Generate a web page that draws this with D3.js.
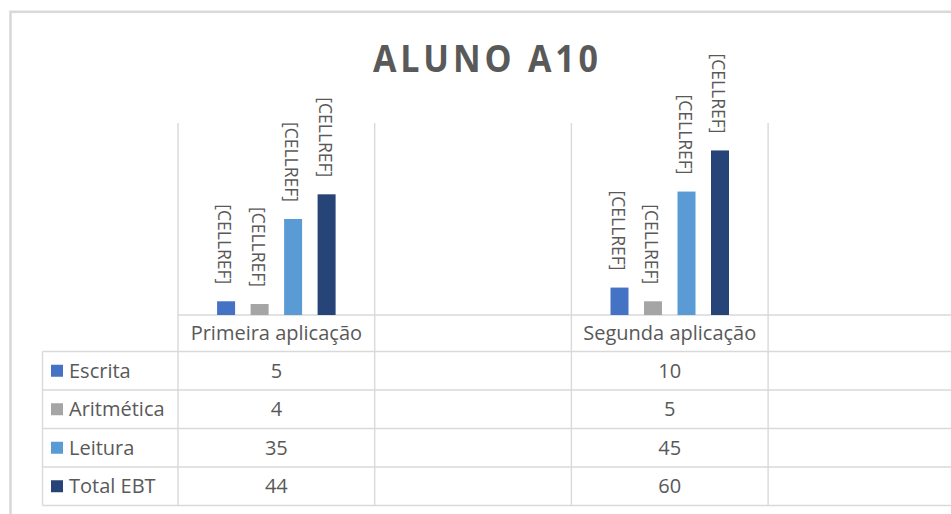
<!DOCTYPE html>
<html>
<head>
<meta charset="utf-8">
<script src="https://cdn.jsdelivr.net/npm/d3@7"></script>
<style>
  html, body { margin: 0; padding: 0; background: #ffffff; }
  svg { display: block; }
  text { font-family: "Open Sans", "Noto Sans", sans-serif; }
</style>
</head>
<body>
<svg id="chart" width="951" height="514"></svg>
<script>
// Chart data
const title = "ALUNO A10";
const categories = ["Primeira aplicação", "", "Segunda aplicação", ""];
const seriesNames = ["Escrita", "Aritmética", "Leitura", "Total EBT"];
const escrita = [5, null, 10, null];
const aritmetica = [4, null, 5, null];
const leitura = [35, null, 45, null];
const totalEBT = [44, null, 60, null];
const seriesColors = ["#4472C4", "#A5A5A5", "#5B9BD5", "#264478"];
const dataLabel = "[CELLREF]";
const yTicks = [0, 70];

const series = [escrita, aritmetica, leitura, totalEBT];

const svg = d3.select("#chart");
const textColor = "#595959";
const gridColor = "#d9d9d9";

// Layout
const plotLeft = 178, bandW = 196.7;
const plotTop = 123, plotBottom = 315;
const tableLeft = 42.5;
const rowH = 38.5;
const tableTop = 351.5;

// Chart frame (the outer border of the chart area)
svg.append("rect")
  .attr("x", 10.5).attr("y", 11.8)
  .attr("width", 1000).attr("height", 600)
  .attr("fill", "none")
  .attr("stroke", "#d9d9d9")
  .attr("stroke-width", 2.6);

// Title, slightly condensed horizontally
const titleScale = 0.92;
svg.append("text")
  .attr("transform", `translate(485.5,72) scale(${titleScale},1)`)
  .attr("text-anchor", "middle")
  .attr("font-size", 37)
  .attr("font-weight", 700)
  .attr("fill", textColor)
  .attr("textLength", 225 / titleScale)
  .attr("lengthAdjust", "spacing")
  .text(title);

// Scales
const x = d3.scaleBand()
  .domain(d3.range(categories.length))
  .range([plotLeft, plotLeft + bandW * categories.length])
  .paddingInner(0).paddingOuter(0);

const y = d3.scaleLinear()
  .domain(d3.extent(yTicks))
  .range([plotBottom, plotTop]);

// Bars within each category band: 18px wide, 33.5px apart
const barW = 18, barStep = 33.5;
const groupW = barStep * (series.length - 1) + barW;
const xs = d3.scaleBand()
  .domain(d3.range(series.length))
  .range([0, groupW])
  .paddingInner((barStep - barW) / barStep)
  .paddingOuter(0);

// Grid: vertical category lines from plot top down through the table
const grid = svg.append("g").attr("stroke", gridColor).attr("stroke-width", 1.4);
const bounds = d3.range(categories.length + 1).map(i => plotLeft + i * bandW);
grid.selectAll("line.v").data(bounds).join("line")
  .attr("x1", d => d).attr("x2", d => d)
  .attr("y1", plotTop).attr("y2", tableTop + rowH * series.length);

// Category axis line
grid.append("line")
  .attr("x1", plotLeft).attr("x2", 951)
  .attr("y1", plotBottom).attr("y2", plotBottom);

// Data table horizontal lines and left edge
const rowLines = d3.range(series.length + 1).map(i => tableTop + i * rowH);
grid.selectAll("line.h").data(rowLines).join("line")
  .attr("x1", tableLeft).attr("x2", 951)
  .attr("y1", d => d).attr("y2", d => d);
grid.append("line")
  .attr("x1", tableLeft).attr("x2", tableLeft)
  .attr("y1", tableTop).attr("y2", tableTop + rowH * series.length);

// Bars and rotated data labels
series.forEach((vals, si) => {
  const g = svg.append("g");
  vals.forEach((v, ci) => {
    if (v == null) return;
    const bandCenter = x(ci) + x.bandwidth() / 2;
    const bx = bandCenter - groupW / 2 + xs(si);
    g.append("rect")
      .attr("x", bx).attr("y", y(v))
      .attr("width", xs.bandwidth())
      .attr("height", y(0) - y(v))
      .attr("fill", seriesColors[si]);
    const lx = bx + xs.bandwidth() / 2 - 1;
    const ly = y(v) - 17;
    g.append("text")
      .attr("transform", `translate(${lx},${ly}) rotate(90)`)
      .attr("text-anchor", "end")
      .attr("dominant-baseline", "central")
      .attr("font-size", 17.5)
      .attr("fill", textColor)
      .attr("textLength", 80)
      .attr("lengthAdjust", "spacingAndGlyphs")
      .text(dataLabel);
  });
});

// Category labels (header row of the data table)
svg.append("g").selectAll("text").data(categories).join("text")
  .attr("x", (d, i) => x(i) + x.bandwidth() / 2)
  .attr("y", (plotBottom + tableTop) / 2 + 7)
  .attr("text-anchor", "middle")
  .attr("font-size", 20)
  .attr("fill", textColor)
  .text(d => d);

// Data table rows: legend key, series name, values
seriesNames.forEach((name, si) => {
  const cy = tableTop + si * rowH + rowH / 2;
  svg.append("rect")
    .attr("x", 51).attr("y", cy - 6)
    .attr("width", 12).attr("height", 12)
    .attr("fill", seriesColors[si]);
  svg.append("text")
    .attr("x", 69).attr("y", cy + 7)
    .attr("font-size", 20)
    .attr("fill", textColor)
    .text(name);
  series[si].forEach((v, ci) => {
    if (v == null) return;
    svg.append("text")
      .attr("x", x(ci) + x.bandwidth() / 2)
      .attr("y", cy + 7)
      .attr("text-anchor", "middle")
      .attr("font-size", 20)
      .attr("fill", textColor)
      .text(v);
  });
});
</script>
</body>
</html>
